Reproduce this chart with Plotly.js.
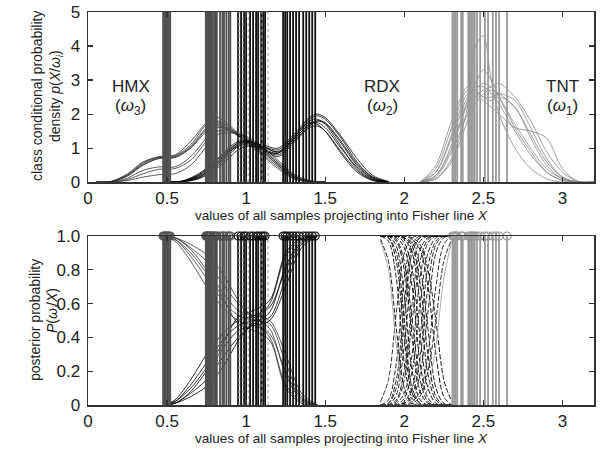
<!DOCTYPE html>
<html>
<head>
<meta charset="utf-8">
<script src="https://cdn.plot.ly/plotly-3.0.1.min.js"></script>
<style>html,body{margin:0;padding:0;background:#fff;}#chart{width:607px;height:456px;}</style>
</head>
<body>
<div id="chart"></div>
<script>
// ---------- data ----------
const xTicks = [0, 0.5, 1, 1.5, 2, 2.5, 3];
const xTickText = ['0', '0.5', '1', '1.5', '2', '2.5', '3'];
const yTopTicks = [0, 1, 2, 3, 4, 5];
const yBotTicks = [0, 0.2, 0.4, 0.6, 0.8, 1.0];
const yBotTickText = ['0', '0.2', '0.4', '0.6', '0.8', '1.0'];

// sample positions on the Fisher line (vertical lines / circles)
const hmxSamples = [0.475, 0.482, 0.49, 0.497, 0.505, 0.512, 0.52,
  0.745, 0.75, 0.755, 0.76, 0.765, 0.77, 0.775, 0.78, 0.79, 0.8, 0.805, 0.815, 0.835, 0.85, 0.86, 0.875, 0.89, 0.9];
const rdxSamples = [0.949, 0.968, 0.987, 1.0, 1.025, 1.044, 1.063, 1.076, 1.095, 1.108, 1.12,
  1.234, 1.247, 1.26, 1.278, 1.297, 1.316, 1.335, 1.361, 1.38, 1.399, 1.418, 1.437];
const rdxDotted = [0.955, 0.98, 1.013, 1.10, 1.139];
const tntSamples = [2.305, 2.315, 2.325, 2.335, 2.36, 2.37, 2.405, 2.415, 2.425, 2.435, 2.445, 2.46,
  2.48, 2.51, 2.53, 2.56, 2.58, 2.6, 2.65];

// class conditional densities (top panel)
const hmxDensX = [0.05, 0.15, 0.25, 0.35, 0.45, 0.55, 0.65, 0.75, 0.82, 0.9, 1.0, 1.1, 1.2, 1.3, 1.4, 1.5];
const hmxDens = [
  [0, 0.02, 0.2, 0.55, 0.72, 0.75, 1.05, 1.6, 1.75, 1.55, 1.2, 0.9, 0.5, 0.15, 0.02, 0],
  [0, 0.03, 0.25, 0.6, 0.75, 0.8, 1.2, 1.75, 1.9, 1.65, 1.2, 0.85, 0.45, 0.12, 0.01, 0],
  [0, 0.02, 0.18, 0.5, 0.7, 0.72, 1.0, 1.5, 1.7, 1.5, 1.25, 0.95, 0.55, 0.2, 0.03, 0],
  [0, 0.01, 0.12, 0.35, 0.45, 0.45, 0.75, 1.3, 1.6, 1.55, 1.3, 1.0, 0.6, 0.2, 0.03, 0],
  [0, 0.01, 0.08, 0.25, 0.38, 0.4, 0.65, 1.2, 1.5, 1.5, 1.3, 1.0, 0.55, 0.18, 0.02, 0],
  [0, 0.0, 0.05, 0.15, 0.22, 0.25, 0.5, 1.05, 1.4, 1.45, 1.35, 1.05, 0.65, 0.25, 0.05, 0],
  [0, 0.02, 0.22, 0.58, 0.74, 0.78, 1.1, 1.7, 1.8, 1.6, 1.15, 0.8, 0.4, 0.1, 0.01, 0],
  [0, 0.02, 0.2, 0.52, 0.7, 0.74, 1.02, 1.55, 1.65, 1.5, 1.2, 0.92, 0.5, 0.15, 0.02, 0]
];
const rdxDensX = [0.5, 0.6, 0.7, 0.8, 0.9, 0.95, 1.0, 1.1, 1.2, 1.3, 1.4, 1.45, 1.5, 1.6, 1.7, 1.8, 1.9];
const rdxDens = [
  [0, 0.03, 0.2, 0.55, 0.95, 1.1, 1.15, 1.0, 0.85, 1.25, 1.7, 1.75, 1.6, 1.0, 0.45, 0.1, 0],
  [0, 0.02, 0.15, 0.45, 0.9, 1.1, 1.2, 1.05, 0.9, 1.3, 1.8, 1.85, 1.7, 1.05, 0.4, 0.08, 0],
  [0, 0.04, 0.25, 0.6, 1.0, 1.15, 1.2, 1.0, 0.8, 1.2, 1.65, 1.8, 1.75, 1.2, 0.55, 0.15, 0.01],
  [0, 0.01, 0.1, 0.35, 0.75, 0.95, 1.05, 1.05, 0.95, 1.35, 1.85, 1.95, 1.85, 1.3, 0.6, 0.15, 0.01],
  [0, 0.03, 0.22, 0.6, 1.05, 1.2, 1.25, 1.0, 0.75, 1.15, 1.6, 1.65, 1.5, 0.9, 0.35, 0.06, 0],
  [0, 0.02, 0.12, 0.4, 0.85, 1.05, 1.15, 1.1, 1.0, 1.4, 1.9, 2.0, 1.9, 1.35, 0.7, 0.2, 0.02],
  [0, 0.03, 0.18, 0.5, 0.92, 1.05, 1.1, 0.95, 0.85, 1.3, 1.75, 1.7, 1.5, 0.85, 0.3, 0.05, 0],
  [0, 0.02, 0.14, 0.48, 0.98, 1.15, 1.22, 1.08, 0.88, 1.25, 1.7, 1.8, 1.72, 1.15, 0.5, 0.12, 0]
];
const tntDensX = [2.1, 2.2, 2.3, 2.4, 2.45, 2.5, 2.55, 2.6, 2.7, 2.8, 2.9, 3.0, 3.1, 3.2];
const tntDens = [
  [0, 0.3, 1.3, 2.5, 2.8, 2.8, 2.6, 2.3, 1.5, 0.8, 0.3, 0.05, 0, 0],
  [0, 0.2, 1.0, 2.3, 2.7, 2.9, 2.8, 2.5, 1.7, 1.0, 0.4, 0.1, 0, 0],
  [0, 0.1, 0.6, 1.8, 2.3, 2.6, 2.7, 2.6, 2.2, 1.4, 0.6, 0.15, 0.01, 0],
  [0, 0.4, 1.6, 2.7, 2.6, 2.4, 2.2, 2.0, 1.6, 1.5, 1.3, 0.4, 0.02, 0],
  [0, 0.1, 0.7, 2.2, 4.0, 4.3, 3.0, 2.0, 1.0, 0.4, 0.1, 0, 0, 0],
  [0, 0.3, 1.4, 2.6, 2.7, 2.5, 2.5, 2.6, 2.4, 1.6, 0.7, 0.15, 0, 0],
  [0, 0.2, 1.1, 2.4, 2.9, 3.3, 3.0, 2.5, 1.6, 0.9, 0.3, 0.05, 0, 0],
  [0, 0.5, 1.8, 2.8, 2.7, 2.5, 2.4, 2.5, 2.2, 1.3, 0.5, 0.1, 0, 0],
  [0, 0.15, 0.9, 2.0, 2.5, 2.7, 2.8, 2.9, 2.5, 1.8, 0.9, 0.3, 0.02, 0]
];

// posterior probabilities (bottom panel)
const postX = [0.48, 0.55, 0.65, 0.75, 0.85, 0.95, 1.05, 1.15, 1.25, 1.35, 1.45];
const hmxPost = [
  [1, 0.99, 0.93, 0.85, 0.72, 0.6, 0.52, 0.45, 0.18, 0.03, 0],
  [1, 0.98, 0.88, 0.75, 0.62, 0.53, 0.5, 0.48, 0.25, 0.05, 0],
  [1, 0.99, 0.95, 0.89, 0.78, 0.62, 0.5, 0.4, 0.12, 0.02, 0],
  [1, 0.97, 0.85, 0.7, 0.58, 0.5, 0.47, 0.42, 0.2, 0.04, 0],
  [1, 0.99, 0.92, 0.8, 0.67, 0.56, 0.53, 0.5, 0.3, 0.07, 0],
  [1, 0.98, 0.9, 0.78, 0.64, 0.48, 0.44, 0.38, 0.1, 0.01, 0]
];
const rdxPostRise = [
  [0, 0.01, 0.07, 0.15, 0.28, 0.4, 0.48, 0.55, 0.82, 0.97, 1],
  [0, 0.02, 0.12, 0.25, 0.38, 0.47, 0.5, 0.52, 0.75, 0.95, 1],
  [0, 0.01, 0.05, 0.11, 0.22, 0.38, 0.5, 0.6, 0.88, 0.98, 1],
  [0, 0.03, 0.15, 0.3, 0.42, 0.5, 0.53, 0.58, 0.8, 0.96, 1],
  [0, 0.01, 0.08, 0.2, 0.33, 0.44, 0.47, 0.5, 0.7, 0.93, 1],
  [0, 0.02, 0.1, 0.22, 0.36, 0.52, 0.56, 0.62, 0.9, 0.99, 1]
];
const transX = [1.85, 1.9, 1.95, 2.0, 2.05, 2.1, 2.15, 2.2, 2.25, 2.3];
const rdxPostDrop = [
  [1, 0.99, 0.9, 0.5, 0.1, 0.01, 0, 0, 0, 0],
  [1, 1, 0.97, 0.8, 0.4, 0.08, 0.01, 0, 0, 0],
  [1, 1, 0.99, 0.93, 0.7, 0.25, 0.04, 0, 0, 0],
  [1, 1, 1, 0.98, 0.9, 0.6, 0.18, 0.03, 0, 0],
  [1, 1, 1, 0.99, 0.96, 0.82, 0.45, 0.1, 0.01, 0],
  [1, 0.97, 0.75, 0.25, 0.04, 0, 0, 0, 0, 0],
  [0.98, 0.85, 0.45, 0.1, 0.01, 0, 0, 0, 0, 0],
  [1, 1, 1, 1, 0.98, 0.92, 0.7, 0.3, 0.05, 0],
  [1, 1, 0.98, 0.85, 0.5, 0.15, 0.02, 0, 0, 0],
  [1, 1, 1, 0.96, 0.8, 0.4, 0.1, 0.01, 0, 0],
  [1, 1, 1, 0.99, 0.94, 0.72, 0.3, 0.05, 0, 0],
  [1, 0.99, 0.85, 0.4, 0.07, 0.01, 0, 0, 0, 0],
  [1, 1, 0.94, 0.65, 0.2, 0.03, 0, 0, 0, 0],
  [1, 1, 1, 1, 0.99, 0.95, 0.8, 0.5, 0.15, 0.02]
];
const tntPostRise = [
  [0, 0.01, 0.1, 0.5, 0.9, 0.99, 1, 1, 1, 1],
  [0, 0, 0.03, 0.2, 0.6, 0.92, 0.99, 1, 1, 1],
  [0, 0, 0.01, 0.07, 0.3, 0.75, 0.96, 1, 1, 1],
  [0, 0, 0, 0.02, 0.1, 0.4, 0.82, 0.97, 1, 1],
  [0, 0, 0, 0.01, 0.04, 0.18, 0.55, 0.9, 0.99, 1],
  [0, 0.03, 0.25, 0.75, 0.96, 1, 1, 1, 1, 1],
  [0.02, 0.15, 0.55, 0.9, 0.99, 1, 1, 1, 1, 1],
  [0, 0, 0, 0, 0.02, 0.08, 0.3, 0.7, 0.95, 1],
  [0, 0, 0.02, 0.15, 0.5, 0.85, 0.98, 1, 1, 1],
  [0, 0, 0, 0.04, 0.2, 0.6, 0.9, 0.99, 1, 1],
  [0, 0, 0, 0.01, 0.06, 0.28, 0.7, 0.95, 1, 1],
  [0, 0.01, 0.15, 0.6, 0.93, 0.99, 1, 1, 1, 1],
  [0, 0, 0.06, 0.35, 0.8, 0.97, 1, 1, 1, 1],
  [0, 0, 0, 0, 0.01, 0.05, 0.2, 0.5, 0.85, 0.98]
];
const rdxPostDropEdge = [[0.97, 0.8, 0.35, 0.06, 0, 0, 0, 0, 0, 0]];
const tntPostRiseEdge = [[0, 0, 0, 0, 0, 0.02, 0.1, 0.35, 0.75, 0.97]];

// ---------- drawing ----------
const FONT = '"Liberation Sans", Arial, sans-serif';
const traces = [];

function curves(xs, sets, color, xa, ya, dash, width) {
  sets.forEach(ys => traces.push({
    type: 'scatter', mode: 'lines', x: xs, y: ys, xaxis: xa, yaxis: ya,
    line: {color: color, width: width || 0.8, shape: 'spline', smoothing: 0.9, dash: dash || 'solid'},
    hoverinfo: 'skip'
  }));
}
function verticals(vals, top, color, xa, ya, dash, width) {
  const xs = [], ys = [];
  vals.forEach(v => { xs.push(v, v, null); ys.push(0, top, null); });
  traces.push({type: 'scatter', mode: 'lines', x: xs, y: ys, xaxis: xa, yaxis: ya,
    line: {color: color, width: width || 1.8, dash: dash || 'solid'}, hoverinfo: 'skip'});
}
function circles(vals, color, xa, ya) {
  traces.push({type: 'scatter', mode: 'markers', x: vals, y: vals.map(() => 1), xaxis: xa, yaxis: ya,
    cliponaxis: false,
    marker: {symbol: 'circle-open', size: 8, color: color, line: {width: 1.2, color: color}}, hoverinfo: 'skip'});
}

// top panel
curves(hmxDensX, hmxDens, '#333', 'x', 'y');
curves(rdxDensX, rdxDens, '#000', 'x', 'y');
curves(tntDensX, tntDens, '#888', 'x', 'y');
verticals(hmxSamples, 5, '#505050', 'x', 'y');
verticals(rdxSamples, 5, '#111', 'x', 'y');
verticals(rdxDotted, 5, '#999', 'x', 'y', 'dot', 1);
verticals(tntSamples, 5, '#999', 'x', 'y');

// bottom panel
curves(postX, hmxPost, '#333', 'x2', 'y2');
curves(postX, rdxPostRise, '#000', 'x2', 'y2');
curves(transX, rdxPostDrop, '#000', 'x2', 'y2', '5px,2px', 0.9);
curves(transX, tntPostRise, '#1a1a1a', 'x2', 'y2', '5px,2px', 0.9);
curves(transX, rdxPostDropEdge, '#999', 'x2', 'y2', 'solid', 0.8);
curves(transX, tntPostRiseEdge, '#999', 'x2', 'y2', 'solid', 0.8);
verticals(hmxSamples, 1, '#505050', 'x2', 'y2');
verticals(rdxSamples, 1, '#111', 'x2', 'y2');
verticals(rdxDotted, 1, '#999', 'x2', 'y2', 'dot', 1);
verticals(tntSamples, 1, '#999', 'x2', 'y2');
circles(hmxSamples, '#505050', 'x2', 'y2');
circles(rdxSamples, '#111', 'x2', 'y2');
circles(tntSamples, '#999', 'x2', 'y2');

const axBase = {
  showgrid: false, zeroline: false, showline: true, linecolor: '#333', linewidth: 1.5,
  ticks: 'inside', ticklen: 5, tickwidth: 1.2, tickcolor: '#333', mirror: 'ticks',
  tickfont: {family: FONT, size: 17, color: '#222'}
};
const xTitle = 'values of all samples projecting into Fisher line <i>X</i>';
const titleFont = {family: FONT, size: 13.5, color: '#222'};

function ytitle(text, xpx, ypx) {
  return {text: text, xref: 'paper', yref: 'paper', x: (xpx - 88) / 506, y: (405 - ypx) / 393,
    xanchor: 'center', yanchor: 'middle', textangle: -90, showarrow: false,
    font: {family: FONT, size: 14, color: '#222'}};
}
function label(text, x, y) {
  return {text: text, x: x, y: y, xref: 'x', yref: 'y', showarrow: false,
    xanchor: 'center', yanchor: 'middle', font: {family: FONT, size: 17, color: '#222'}};
}

const layout = {
  width: 607, height: 456,
  margin: {l: 88, r: 13, t: 12, b: 51},
  paper_bgcolor: '#fff', plot_bgcolor: '#fff',
  showlegend: false,
  font: {family: FONT, size: 14, color: '#222'},
  xaxis: Object.assign({}, axBase, {anchor: 'y', domain: [0, 1], range: [0, 3.2],
    tickvals: xTicks, ticktext: xTickText,
    title: {text: xTitle, standoff: 3, font: titleFont}}),
  yaxis: Object.assign({}, axBase, {anchor: 'x', domain: [0.567, 1], range: [0, 5],
    tickvals: yTopTicks, ticklabelstandoff: 3}),
  xaxis2: Object.assign({}, axBase, {anchor: 'y2', domain: [0, 1], range: [0, 3.2],
    tickvals: xTicks, ticktext: xTickText,
    title: {text: xTitle, standoff: 3, font: titleFont}}),
  yaxis2: Object.assign({}, axBase, {anchor: 'x2', domain: [0, 0.43], range: [0, 1],
    tickvals: yBotTicks, ticktext: yBotTickText, ticklabelstandoff: 3}),
  annotations: [
    ytitle('class conditional probability', 37, 96),
    ytitle('density <i>p</i>(<i>X</i>/<i>ω<sub>i</sub></i>)', 56, 96),
    ytitle('posterior probability', 35, 320),
    ytitle('<i>P</i>(<i>ω<sub>i</sub></i>/<i>X</i>)', 53, 311),
    label('HMX', 0.27, 2.8), label('(<i>ω</i><sub>3</sub>)', 0.27, 2.2),
    label('RDX', 1.86, 2.8), label('(<i>ω</i><sub>2</sub>)', 1.86, 2.2),
    label('TNT', 3.0, 2.8), label('(<i>ω</i><sub>1</sub>)', 3.0, 2.2)
  ]
};

Plotly.newPlot('chart', traces, layout, {staticPlot: true, displayModeBar: false});
</script>
</body>
</html>
